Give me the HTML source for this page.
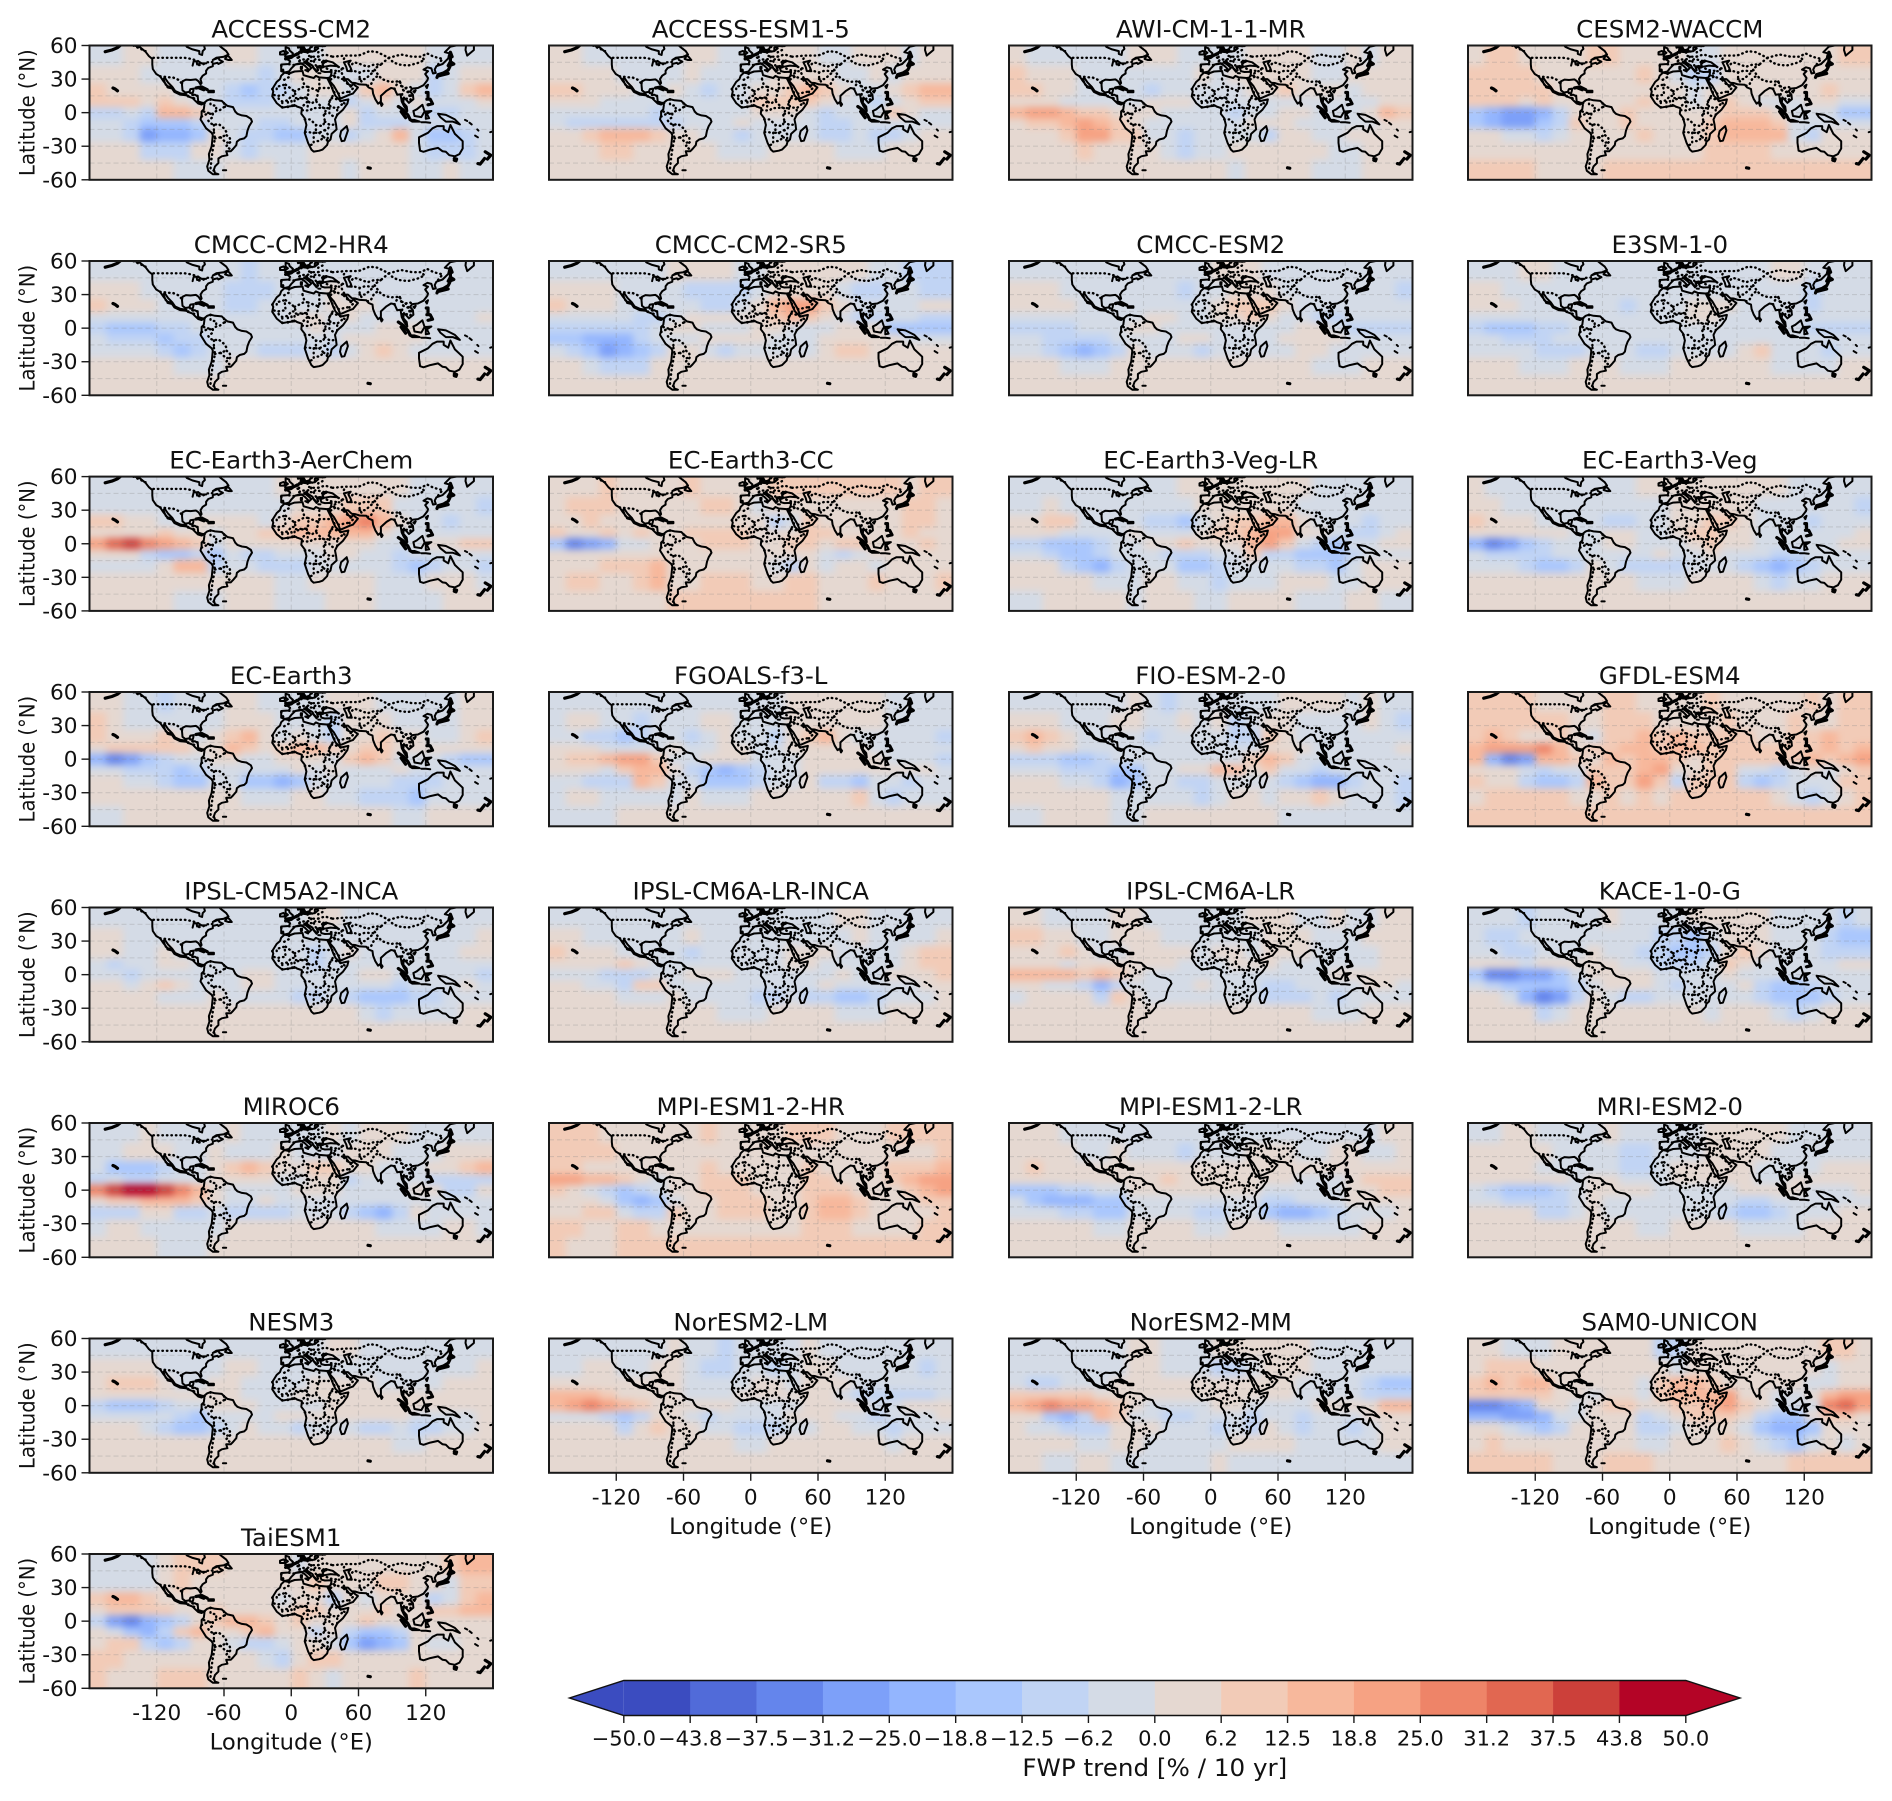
<!DOCTYPE html>
<html lang="en">
<head>
<meta charset="utf-8">
<title>FWP trend by CMIP6 model</title>
<style>
html,body{margin:0;padding:0;background:#fff;}
svg{display:block;}
text{font-family:"DejaVu Sans","Liberation Sans",sans-serif;fill:#111;}
</style>
</head>
<body>
<svg id="figure" xmlns="http://www.w3.org/2000/svg" width="1892" height="1801" viewBox="0 0 1892 1801">
<defs id="defs">
<filter id="soften" filterUnits="userSpaceOnUse" x="-30" y="-30" width="464" height="195" color-interpolation-filters="sRGB"><feGaussianBlur stdDeviation="3.6"/></filter>
</defs>
<rect x="0" y="0" width="1892" height="1801" fill="#fff"/>
</svg>
<script>
/* Chart values: FWP trend, % per decade. Each field has 9 latitude bands (north to south) of 24 longitude cells. */
const latEdges = [60,42,26,14,5,-5,-14,-26,-42,-60];
const lonStart = -180;
const lonStep = 15;
const latTicks = [60,30,0,-30,-60];
const lonTicks = [-120,-60,0,60,120];
const gridLats = [45,30,15,0,-15,-30,-45];
const gridLons = [-120,-60,0,60,120];
const levels = [-50,-43.75,-37.5,-31.25,-25,-18.75,-12.5,-6.25,0,6.25,12.5,18.75,25,31.25,37.5,43.75,50];
const levelLabels = ["\u221250.0","\u221243.8","\u221237.5","\u221231.2","\u221225.0","\u221218.8","\u221212.5","\u22126.2","0.0","6.2","12.5","18.8","25.0","31.2","37.5","43.8","50.0"];
const levelColors = ["#3b4cc0","#516bd9","#6485ec","#7da0f9","#93b5fe","#aac7fd","#c1d4f4","#d4dbe6","#e5d8d1","#f2cbb7","#f7b89c","#f6a283","#ee8468","#e16751","#cc403a","#b40426"];

const fieldAccessCm2 = [
[-3,-3,3,3,-3,-3,-3,-3,3,3,-3,-3,-3,-3,3,3,3,3,3,3,-3,-3,-3,-3],
[3,3,3,-3,-3,-3,-3,-3,-3,-3,-9,-3,3,3,-3,-3,-3,3,3,3,-9,-3,3,3],
[9,3,3,3,3,-3,-3,-3,-9,-15,-9,-9,-3,3,3,-3,9,15,3,-3,-9,-3,9,15],
[9,9,9,3,9,3,-3,-3,-9,-9,-9,-3,-3,-3,-3,-9,-3,3,-3,3,-3,-3,-3,3],
[-9,-9,-3,-9,15,15,9,-3,-3,-3,-3,-3,-3,-3,-3,3,-9,-3,-3,-3,-9,-9,-3,-3],
[-3,-3,-9,-15,-15,-15,-9,-3,-3,-3,-9,-9,-3,-3,-3,3,-9,-9,-9,-3,-3,-3,-3,-3],
[-3,-3,-9,-28,-22,-22,-15,3,-3,-9,-9,-15,-15,-3,-3,-9,-3,3,15,-3,-15,-15,-9,-3],
[3,3,3,-9,-9,-9,3,3,-3,-9,-3,-3,-3,3,3,3,3,3,3,-3,-9,-9,-9,-3],
[3,3,3,3,3,-3,-3,-3,3,3,3,-3,-3,3,3,-3,3,3,3,-3,-3,3,-3,-3]];
const fieldAccessEsm15 = [
[3,3,-3,-3,-3,-3,-3,-3,3,3,-3,-3,-3,3,3,3,-3,-3,3,3,3,-3,3,3],
[3,3,3,3,-3,-3,-3,-3,3,-3,-3,-3,-3,3,3,3,3,-3,-3,3,-3,3,3,3],
[9,9,3,3,3,-3,-3,3,-3,-9,-3,-3,3,3,9,15,9,3,-3,-3,3,9,15,15],
[3,3,3,-3,-3,-3,-3,-3,-3,-3,-3,-3,9,9,9,9,3,-3,-3,-9,-3,3,9,9],
[-3,-3,-3,-3,-3,-3,-9,-3,-3,-3,-3,-3,3,3,3,-3,-9,-3,-3,-3,9,3,-3,-3],
[-3,-9,-9,-9,-9,-9,-9,-9,-3,-3,-3,3,-3,-3,-3,-3,-9,-9,-3,-3,-3,-3,-3,-3],
[3,3,9,15,15,15,9,3,3,-3,-3,-9,-3,-3,-3,-3,-9,-9,-3,-9,-9,-3,3,3],
[3,3,3,9,9,3,3,3,3,3,-3,-3,-3,3,3,3,3,-3,-3,-3,3,3,3,3],
[3,3,3,3,3,3,3,3,3,3,3,3,3,3,3,3,3,3,3,3,3,3,3,3]];
const fieldAwiCm = [
[3,-3,-3,-3,-3,-3,-3,3,3,3,-3,-3,-3,-3,3,3,3,3,-3,-3,3,-3,3,3],
[9,3,3,3,-3,-3,-3,-3,-3,-3,-3,3,-3,3,3,3,3,3,-3,-3,3,3,3,3],
[9,9,3,3,-3,-3,-3,-3,-9,-3,-3,-3,-3,-3,3,3,9,3,3,3,-3,3,3,3],
[3,3,3,-3,-3,-3,-3,-3,3,3,3,-3,-3,-3,-3,-3,-3,-3,-3,-3,-3,-3,3,3],
[15,22,22,15,9,9,3,3,3,-3,-3,-3,-3,-9,-3,-3,3,3,-3,-3,-3,3,15,9],
[3,9,9,15,22,15,9,3,-3,-3,-3,-3,-3,-3,3,3,3,-3,-3,-3,-3,-3,3,3],
[3,3,3,9,22,22,9,9,-3,-3,-9,-3,-3,-3,-3,-9,3,3,-3,-3,3,3,3,3],
[3,3,3,3,9,3,3,3,3,-3,-9,-3,-3,3,3,3,3,3,3,-3,-3,3,3,3],
[3,3,3,3,3,3,3,3,3,3,3,3,3,-3,3,3,3,3,-3,-3,-3,3,3,3]];
const fieldCesm2Waccm = [
[3,9,9,3,3,3,3,9,9,3,3,3,3,-3,-3,3,3,3,3,3,3,3,9,9],
[9,9,9,9,3,3,3,3,3,3,9,3,-3,-9,-9,3,3,3,3,3,3,3,3,3],
[9,9,9,9,9,3,3,3,3,3,3,3,3,-3,3,3,3,3,3,3,3,9,3,3],
[9,9,9,3,9,3,3,3,3,3,9,3,3,-3,3,9,3,-3,-3,-3,3,3,-3,-3],
[-15,-22,-28,-28,-22,-9,3,3,3,9,3,3,3,3,3,9,9,9,3,-3,-3,-3,-15,-15],
[-15,-22,-28,-28,-15,-9,9,3,3,9,3,3,3,3,9,15,15,15,9,-3,-3,-3,-3,-3],
[3,3,-3,-3,-9,-3,3,3,3,3,9,3,3,3,9,15,15,15,15,-3,-9,3,3,3],
[3,3,3,3,3,3,3,3,3,3,3,3,3,3,9,9,9,9,3,3,3,3,3,3],
[9,9,9,9,3,3,3,3,9,9,9,9,9,9,9,9,9,9,9,9,9,9,9,9]];
const fieldCmccHr4 = [
[-3,-3,-3,-3,-3,-3,-3,-3,-3,-9,-3,-3,-3,-3,-3,-3,-3,-3,-3,-3,-3,-3,-3,-3],
[3,3,3,-3,-3,-3,-3,-3,-9,-9,-9,-3,-3,-3,3,-3,-3,-3,-3,-3,-3,-3,-3,-3],
[9,3,3,3,-3,-3,-3,-3,-9,-9,-3,-3,-3,-3,3,3,3,-3,-3,-3,-3,-3,-3,-3],
[-3,-3,-3,-3,-3,-3,-3,-3,-3,-3,-3,-3,3,3,-3,3,-3,-3,-3,-3,-3,-3,-3,3],
[-9,-15,-15,-15,-9,-9,-3,-3,-3,-3,-3,-3,-3,3,-3,-3,-3,3,3,3,-3,-3,-3,-3],
[-3,-9,-9,-9,-15,-9,-9,-3,-3,-3,-3,-3,-3,-3,-3,3,3,3,3,3,-3,-3,-3,-3],
[-3,-3,-3,-3,-9,-15,-9,-3,-3,-3,-9,-9,-9,-3,-9,-3,3,9,3,-3,-3,-3,-3,-3],
[3,3,3,3,3,-3,-3,-3,3,3,3,3,3,3,3,3,3,3,3,3,3,3,3,3],
[3,3,3,3,3,3,3,3,3,3,3,3,3,3,3,3,3,3,3,3,3,3,3,3]];
const fieldCmccSr5 = [
[-3,-3,-3,-3,-3,-3,-3,3,3,3,3,-3,-3,3,3,3,3,3,3,-3,-3,-9,-9,-9],
[3,3,3,3,-3,-3,-3,-3,-9,-9,-9,-9,-3,3,3,3,3,-3,-9,-9,-3,-3,-9,-9],
[9,3,3,3,-3,-3,-3,-3,-3,-9,-9,-3,3,15,22,22,9,3,-3,-3,-3,-3,3,3],
[-3,-3,-3,-3,-3,-9,-9,-3,3,3,3,3,3,9,15,9,3,-3,-9,-9,-3,-3,-9,-9],
[-9,-9,-9,-9,-9,-9,-3,3,3,-3,-3,-3,3,3,-3,-3,-3,3,3,3,-15,-15,-15,-15],
[-15,-15,-22,-22,-22,-9,-3,-3,-3,3,3,3,3,-3,-3,-3,3,3,3,3,3,-3,-3,-3],
[-3,-9,-15,-28,-22,-15,-9,3,3,-3,-9,-3,-3,-3,-3,-3,3,9,9,3,3,3,3,3],
[3,3,-3,-9,-9,-9,3,3,3,3,3,3,3,3,3,3,3,3,3,3,3,3,3,3],
[3,3,3,3,3,3,3,3,3,3,3,3,3,3,3,3,3,3,3,3,3,3,3,3]];
const fieldCmccEsm2 = [
[-3,-3,-3,-3,-3,-3,-3,-3,-3,-3,-3,-3,3,3,3,-3,-3,-3,-3,-3,-3,-3,-3,-3],
[3,3,3,-3,-3,-3,-3,-3,-3,-3,-9,-3,-3,3,3,3,-3,-3,-3,-3,-3,-3,-3,-9],
[3,3,3,3,-3,-3,-3,-3,-3,-3,-3,-3,3,9,9,9,3,-3,-3,-3,-3,-3,-3,-3],
[-3,-3,-3,-3,-3,-3,-3,-3,3,3,-3,-3,3,3,9,3,-3,-3,-9,-9,-3,-3,-3,-3],
[-9,-9,-9,-9,-3,-3,-3,3,3,-3,-3,-3,-3,-3,-3,-3,-3,3,3,-3,-9,-9,-9,-9],
[-3,-3,-9,-9,-9,-9,-3,-3,-3,-3,3,3,-3,-3,-3,-3,3,3,3,3,-3,-3,-3,-3],
[-3,-3,-9,-15,-22,-15,-9,3,-3,-3,-3,-9,-3,-3,-3,-3,-3,3,3,-3,-3,-3,-3,-3],
[3,3,3,-3,-3,-3,3,3,3,3,3,3,3,3,3,3,3,3,-3,-3,-3,3,3,3],
[3,3,3,3,3,3,3,3,3,3,3,3,3,3,3,3,3,3,3,3,3,3,3,3]];
const fieldE3sm = [
[-3,-3,-3,3,3,-3,-3,-3,-3,-3,-3,-3,-3,-3,-3,-3,-3,-3,3,3,-3,-3,-3,-3],
[3,3,-3,-3,-3,-3,-3,-3,-3,-3,-3,-3,-3,-3,-3,-3,-3,-3,-3,-3,-9,-3,-3,-3],
[3,3,3,-3,-3,-3,-3,-3,-3,-9,-3,-3,-3,3,3,3,-3,-3,-3,-3,-9,-3,-3,-3],
[-3,-3,-3,-3,-3,-3,-3,-3,-3,-3,-3,-3,-3,3,3,-3,-3,-3,-3,-3,-3,-3,-3,-3],
[-9,-15,-15,-15,-9,-9,-3,-3,-3,-3,-3,-3,-3,-3,-3,-3,-3,-3,-3,-3,-9,-9,-9,-9],
[-3,-3,-9,-9,-9,-3,-3,-3,-3,-3,-3,-3,-3,-3,-3,-3,-3,-3,-3,-3,-3,-3,-3,-3],
[-3,-3,-3,-3,-9,-9,-9,-3,-3,-3,-9,-9,-3,-3,-3,-3,3,9,-3,-3,-3,-9,-3,-3],
[3,3,3,-3,-3,-3,3,3,3,-3,-3,-3,3,3,3,3,3,3,-3,-3,-3,-3,3,3],
[3,3,3,3,3,3,3,3,3,3,3,3,3,3,3,3,3,3,3,3,3,3,3,3]];
const fieldEcAerChem = [
[-3,-3,-3,-3,-3,-3,-3,-3,-3,-3,-3,3,3,3,3,3,3,3,3,-3,-3,-3,-3,-3],
[-3,-3,-3,-3,-3,-3,-3,-3,-3,-3,-3,-3,3,3,3,9,9,9,-3,-3,-3,-3,-3,-9],
[9,9,3,3,-3,-3,3,3,3,3,-3,3,9,9,15,22,28,15,3,-3,-3,-9,-3,-3],
[3,3,3,3,9,3,3,-3,3,3,9,9,15,15,15,15,15,3,-3,-3,-3,-3,-3,-3],
[22,34,40,28,22,15,9,-3,3,3,3,3,3,3,3,3,3,-3,-3,-3,3,3,9,9],
[3,3,3,-9,-15,-15,-9,-15,-3,-9,-9,-3,-3,-3,3,3,-3,-3,-9,-3,-3,-3,-3,-3],
[-3,-3,-3,-3,3,15,15,-9,-3,-3,-9,-9,-9,-3,-3,-3,-3,-3,-9,-15,-9,-3,-3,-9],
[3,3,3,3,3,3,3,3,3,3,3,-3,-3,3,3,3,3,-3,-3,-3,3,3,3,-3],
[3,3,3,3,3,-3,-3,-3,3,3,3,-3,-3,-3,3,3,3,-3,-3,-3,-3,3,3,3]];
const fieldEcCc = [
[3,3,3,9,3,3,3,3,9,3,3,3,3,9,9,9,9,9,9,9,9,3,9,9],
[3,9,9,9,3,3,3,3,3,9,9,3,-3,3,3,3,3,3,3,3,3,9,9,3],
[3,3,9,3,3,3,3,3,3,3,3,3,3,-9,-3,9,3,3,3,3,3,9,9,3],
[9,3,3,9,3,9,3,3,9,9,9,9,3,3,3,9,9,3,3,3,3,9,3,3],
[-15,-34,-28,-22,-3,-3,3,3,3,9,9,9,3,3,9,9,3,9,9,3,3,3,9,3],
[3,3,3,3,3,3,3,3,3,3,3,3,3,3,3,3,-3,-9,-3,3,3,3,3,3],
[3,3,3,9,9,9,15,3,3,3,3,3,3,-3,-9,3,-3,3,3,-3,3,3,3,3],
[3,9,9,3,3,9,15,3,3,9,9,9,3,3,9,9,3,3,3,9,3,3,3,9],
[3,3,3,3,3,3,3,9,9,9,9,9,9,9,9,9,3,3,3,3,3,3,3,3]];
const fieldEcVegLr = [
[-3,-3,-3,-3,-3,-3,-3,-3,-3,-3,3,3,3,3,3,3,3,3,-3,-3,-3,-3,-3,-3],
[-3,-3,3,-3,-3,-3,-3,-3,-3,-3,-3,3,3,3,3,3,3,-3,-3,-3,-3,-3,-3,-3],
[3,3,9,9,-3,-3,-3,-3,-9,-9,-15,-3,3,9,9,15,15,3,-3,-3,-3,-9,-3,-3],
[3,3,3,-3,-3,-3,-3,3,-3,-3,-3,3,9,9,15,22,22,3,3,-3,-9,-9,-3,3],
[-9,-9,-15,-15,-15,-9,-3,-3,3,3,9,3,3,3,15,22,9,-3,-9,-15,-3,-3,3,3],
[-3,-3,-9,-15,-15,-9,-3,-3,-3,-9,-9,-9,-3,-3,9,-9,-9,-15,-15,-15,-9,-3,-3,-3],
[3,3,3,-9,-15,-22,-9,-3,-3,-3,-15,-15,-9,-3,-3,-3,-3,-9,-9,-15,-3,3,3,3],
[3,3,3,3,3,-3,-3,-3,3,3,-3,-3,-9,-3,-3,-3,3,3,3,-3,-3,3,3,3],
[-3,-3,3,3,3,3,3,-3,3,3,3,-3,-3,3,3,3,3,-3,-3,-3,3,3,-3,-3]];
const fieldEcVeg = [
[3,-3,-3,-3,-3,-3,-3,-3,-3,-3,3,3,3,3,3,3,3,3,3,-3,-3,-3,-3,-3],
[3,3,-3,-3,-3,-3,-3,-3,-3,-3,-3,-3,3,3,3,3,3,-3,-3,-3,-3,-3,-3,-9],
[9,3,3,3,-3,-3,-3,-3,-9,-9,-3,-3,3,3,9,9,3,-3,-3,-3,-9,-3,-3,-3],
[3,3,3,3,3,3,-3,-3,3,3,-3,-3,3,9,9,3,3,-3,-3,-3,-3,-3,-3,3],
[-22,-34,-28,-15,-9,-3,-3,-3,3,3,-3,-3,-3,3,9,3,3,-3,-3,-3,-3,-3,3,3],
[-3,-9,-9,-9,-9,-3,-3,-3,-3,-3,-3,3,-3,-3,3,-3,-3,-3,-9,-9,-3,-3,-3,-3],
[-3,-3,-3,-9,-15,-15,-9,3,-3,-9,-9,-9,-9,-3,-3,-3,-9,-15,-22,-15,-9,-3,-3,-3],
[3,3,3,3,3,3,3,3,3,3,-3,-3,-3,3,3,3,3,-3,-9,-3,-3,3,3,3],
[3,3,3,3,3,3,3,3,3,3,3,3,3,3,3,3,3,3,3,3,3,3,3,3]];
const fieldEcEarth3 = [
[3,3,-3,-3,-9,-3,-3,-3,3,3,-3,-3,-3,-3,3,3,3,-3,-3,-3,-3,-3,3,3],
[9,3,-3,-3,-3,-3,-3,-3,3,3,3,-3,-3,-3,-9,3,3,3,-3,-3,-3,-3,3,3],
[9,3,3,3,9,3,-3,3,9,15,3,-3,3,-3,-9,3,3,9,3,3,-3,-3,3,9],
[3,9,9,9,9,9,3,3,15,9,3,9,15,15,9,3,9,9,3,3,3,3,3,3],
[-22,-34,-28,-15,-9,-3,-3,3,3,-3,-3,3,3,3,-3,9,15,9,-3,-3,-3,-9,-15,-15],
[-3,-3,-9,-9,-9,-15,-9,-3,-3,-3,-3,-3,3,-3,3,-3,-3,-3,3,-3,-3,-3,-3,-3],
[3,3,-3,-3,-9,-15,-15,-3,-3,-15,-15,-22,-15,-3,-3,-3,-3,-3,-9,-9,-9,-3,-3,-3],
[3,3,3,3,3,3,3,3,3,-3,-3,-3,3,3,-3,-3,-9,-9,-9,-15,-3,-3,-3,-3],
[-3,-3,3,3,3,3,3,3,3,3,3,3,3,3,3,3,3,3,-3,-3,3,3,3,3]];
const fieldFgoals = [
[-3,-3,-3,-3,-3,-3,-3,-3,-3,-3,-3,-3,-3,-3,3,3,3,3,3,3,-3,-3,-3,-3],
[-3,3,3,-3,-3,-9,-3,-3,-3,3,3,-3,-3,-3,3,3,3,3,3,3,-3,-3,-3,-3],
[-3,-3,-9,-9,-15,-9,-3,-3,-9,-3,3,-3,-3,-9,3,9,15,3,-3,-3,-3,-3,-3,-9],
[3,3,3,-3,-3,-3,-3,3,-3,-3,3,3,-3,-3,3,3,3,3,3,-3,-3,-3,-3,-3],
[3,9,9,15,22,22,9,-3,-3,3,3,3,-3,-3,-3,3,3,3,3,3,-3,-3,-3,-9],
[3,3,3,-3,9,15,15,3,-9,-15,-22,-15,-9,-3,-3,3,3,3,3,3,3,3,3,-3],
[-3,-3,-9,-9,-9,15,9,-3,-3,-15,-15,-15,-9,-3,-3,3,-9,-9,-15,-3,-3,-9,-3,-3],
[-3,3,3,-3,-3,-3,-3,-3,3,-3,-3,-3,3,3,3,3,3,3,9,-3,-9,-3,-3,-3],
[-3,-3,-3,-3,3,3,3,3,3,3,3,3,3,3,3,3,3,3,3,3,3,3,3,3]];
const fieldFioEsm = [
[-3,-3,-3,-3,-3,-3,-3,3,-3,-9,-3,-3,-3,-3,-3,-3,3,3,3,3,-3,3,-3,-3],
[3,3,3,-3,-3,-3,3,3,-3,-3,3,-3,3,-9,-3,3,3,-3,-3,-3,-3,3,-3,-9],
[9,15,9,3,-3,-3,-3,-3,-9,-3,-3,-3,-3,-9,-9,9,3,-3,-3,-3,-3,-3,-3,-3],
[3,9,3,3,-3,-3,-3,-3,-3,-3,-3,-3,-3,-3,-3,3,3,3,-3,-3,-3,-3,-3,3],
[-9,-9,-9,-15,-15,-9,-3,-3,-3,-3,-3,-3,-3,-3,9,15,9,-3,-3,-3,-3,-3,-3,-3],
[-3,-3,-3,-9,-9,-9,-15,-15,-3,-3,3,3,15,15,3,9,-3,-3,-9,-3,-3,-3,-3,-3],
[3,3,3,-3,-3,-9,-22,-15,-3,-3,-9,-9,-3,-3,-3,-3,-9,-15,-22,-22,-9,-3,-3,-9],
[3,3,3,3,3,3,-3,-3,-3,-3,-3,-9,-3,3,3,-3,3,3,9,3,-3,-3,-3,-9],
[-3,-3,3,3,3,3,-3,-3,3,3,3,3,3,3,3,3,-3,-3,-3,-3,-3,-3,-3,-3]];
const fieldGfdl = [
[9,9,9,9,3,3,3,3,9,9,3,3,3,3,9,3,3,3,3,3,9,3,9,9],
[9,9,9,9,9,9,3,3,9,9,9,3,3,3,3,9,3,3,3,9,3,3,9,9],
[9,15,9,3,3,9,3,-3,9,9,15,9,15,9,9,9,9,3,3,9,9,15,9,9],
[15,22,22,22,28,15,3,9,9,15,15,9,15,15,9,9,9,9,9,9,9,15,9,15],
[15,-22,-34,-28,15,15,9,3,15,9,15,15,9,3,9,9,9,9,9,9,15,9,15,22],
[3,3,3,-3,-9,-3,-3,9,9,9,15,22,3,3,9,9,-3,-3,-9,-3,3,-3,3,9],
[9,3,3,-9,-15,-15,-9,15,9,9,22,9,-9,9,9,9,-9,-15,-9,-3,-3,-3,9,9],
[3,9,9,9,9,9,3,3,9,3,9,3,9,9,9,9,9,9,3,-3,-9,-3,3,9],
[9,9,9,9,9,9,9,9,9,9,9,9,9,9,9,9,9,9,9,9,9,9,9,9]];
const fieldIpslCm5 = [
[-3,-3,-3,-3,-3,-3,-3,-3,-3,-3,-3,-3,-3,3,3,-3,-3,-3,-3,-3,-3,-3,-3,-3],
[3,3,-3,-3,-3,-3,-3,-3,-3,-3,-3,-3,-3,-3,-3,-3,-3,-3,-3,-3,-3,-3,-3,3],
[3,3,-3,-3,3,-3,-3,-3,-3,-3,-3,-3,-3,-9,-3,3,-3,-3,-3,-3,-3,-3,3,3],
[-3,-9,-3,-3,3,3,-3,-3,-3,-3,-3,-3,-3,-9,-3,-3,-3,-3,-3,-3,-3,-3,-3,-3],
[-3,-3,-9,-3,-3,-3,-3,-3,-3,3,3,-3,-3,-3,-3,-3,3,3,-3,-3,-3,-3,-3,-9],
[3,3,-3,3,9,3,-3,-3,-3,3,3,-3,-3,-3,-3,-3,-3,-3,-9,-3,-3,-3,3,-3],
[3,3,3,3,-3,-3,-3,3,-3,-3,-3,-3,-9,-9,-3,-9,-15,-15,-15,-9,-9,-3,-3,-3],
[3,3,3,3,3,3,3,3,3,3,3,3,3,3,3,3,-3,-9,-3,-3,-3,-3,3,3],
[3,3,3,3,3,3,3,3,3,3,3,3,3,3,3,3,3,3,3,3,3,3,3,3]];
const fieldIpslInca = [
[-3,-3,-3,-3,-3,-3,-3,-3,-3,-3,-3,-3,-3,-3,-3,-3,-3,3,3,-3,-3,-3,-3,-3],
[3,3,-3,-3,-3,-3,-3,-3,3,-3,-3,-3,-3,-3,-3,-3,-3,-3,3,-3,-3,-3,-3,3],
[9,3,3,3,-3,-3,-3,-3,-9,-3,-3,-3,-3,-3,3,3,3,-3,-3,-3,-3,3,9,9],
[3,3,3,3,9,3,-3,-3,-3,-3,-3,-3,-3,-3,3,3,-3,-3,-3,-3,-3,3,9,9],
[-3,-3,-3,-9,-9,-9,-3,-3,3,3,3,-3,-3,-3,-3,-3,-3,3,-3,-3,3,3,3,9],
[3,3,-3,-3,-9,9,9,-3,-3,-3,-3,-3,-3,-3,-3,-3,3,-3,-3,-3,-3,-3,3,3],
[3,3,3,3,-3,-3,-3,3,-3,-3,-3,-3,-9,-9,-3,-9,-9,-15,-15,-9,-3,-3,-3,3],
[3,3,3,3,3,3,3,3,3,3,-3,-3,-3,3,3,3,3,-3,-3,-3,3,3,3,3],
[3,3,3,3,3,3,3,3,3,3,3,3,3,3,3,3,3,3,3,3,3,3,3,3]];
const fieldIpslLr = [
[3,3,-3,-3,-3,-3,3,3,-3,-3,-3,-3,-3,-3,3,3,3,-3,-3,3,-3,-3,3,3],
[9,9,3,3,-3,-3,3,3,3,-3,-3,-3,-3,-3,-3,3,3,3,-3,-3,-3,3,3,3],
[3,3,3,9,3,-3,-3,3,3,3,3,-3,3,3,-3,3,3,3,-3,-3,-3,-3,3,3],
[3,3,3,-3,3,3,3,3,3,3,-3,-3,-3,3,3,3,-3,-3,-3,-3,-3,-3,3,3],
[15,15,15,15,9,15,9,3,-3,-3,-3,-3,-3,-3,-3,-3,-3,-3,-3,3,3,3,3,3],
[3,3,-3,-3,-9,-22,-9,-3,-3,-3,-3,3,-3,-3,-3,-9,-9,-3,-3,-3,-3,3,3,-3],
[-3,3,3,3,3,-9,9,3,-3,-3,-3,-3,-3,-3,-3,-9,-9,-9,-3,-9,-3,-3,-3,-3],
[3,3,3,3,3,3,3,3,3,3,3,3,3,3,3,3,3,3,-3,-3,-3,3,3,3],
[3,3,3,3,3,3,3,3,3,3,3,3,3,3,3,3,3,3,3,3,3,3,3,3]];
const fieldKace = [
[-3,-3,-3,-9,-3,-3,-3,-3,3,-3,-3,-3,-3,3,3,3,3,3,-3,-3,-3,-3,-9,-3],
[-3,-9,-9,-3,-3,-3,-3,-3,-3,-3,-3,-9,-9,-15,-3,3,3,3,-3,-3,-3,-9,-15,-15],
[-3,-3,-9,-9,-3,-3,-3,3,-3,-3,-9,-9,-15,-15,-9,3,9,3,-3,-3,-3,-9,-9,-9],
[3,3,3,-3,3,3,3,3,3,-3,-3,-9,-9,-9,-3,9,3,-3,-3,-3,-3,-3,3,3],
[-15,-34,-34,-28,-28,-15,-3,3,3,3,3,-3,-3,-3,-3,3,-3,-3,-3,-3,-3,-3,-3,-3],
[-3,-9,-15,-15,-15,-15,-9,-3,3,3,3,-3,-9,-3,-3,-3,3,-9,-15,-15,-9,-3,-3,-3],
[3,3,-3,-22,-34,-28,-9,3,-3,-9,-9,-3,-3,-3,-3,-3,-3,-9,-15,-15,-15,-9,-3,-3],
[3,3,3,3,-9,-3,3,3,3,3,3,3,3,3,-3,3,3,3,-3,-9,-3,3,3,3],
[3,3,3,3,3,3,3,3,3,3,3,3,3,3,3,3,3,3,3,3,3,3,3,3]];
const fieldMiroc6 = [
[-3,-3,-3,3,-3,-3,-3,-3,3,-3,-3,-3,-3,-3,3,-3,3,3,3,-3,-3,-3,-3,-3],
[-3,-3,3,3,3,-3,-3,3,-3,-3,-3,3,-3,-3,-3,3,3,3,-3,-3,-3,3,3,3],
[-3,-15,-15,-15,-9,-3,-3,3,9,15,9,3,3,9,9,3,3,-3,-3,-3,3,3,9,15],
[-9,-3,-9,-9,-3,-3,-3,3,3,3,3,-3,-3,3,3,-9,-3,-3,-3,-3,-9,-9,-9,-9],
[28,40,47,47,40,28,15,3,-3,-3,-3,-3,3,3,3,-3,-3,-3,-3,3,3,-9,-9,3],
[3,9,9,15,15,15,9,3,-3,-3,3,-3,-3,-3,-3,-3,-3,-3,-3,-3,-3,-3,-3,-3],
[-9,-9,-9,3,3,-9,-9,-3,-9,-9,-9,-9,-3,-3,-3,-9,-15,-22,-9,3,-3,-3,-3,-3],
[-3,3,3,-3,-3,-3,-3,-3,3,3,3,3,3,3,3,3,3,-3,-3,-3,-3,3,3,-3],
[3,3,3,3,-3,-3,-3,3,3,3,3,3,3,3,3,3,3,3,3,3,3,3,3,3]];
const fieldMpiHr = [
[9,9,9,3,3,3,3,3,3,9,3,3,3,3,9,9,9,3,3,3,9,9,9,9],
[9,9,9,9,3,3,3,3,3,3,3,3,3,3,3,3,3,3,3,3,3,3,3,9],
[9,9,3,3,3,3,3,3,3,9,3,3,3,3,3,9,3,3,3,3,9,9,9,15],
[22,22,15,15,9,3,-3,3,3,9,9,9,3,3,3,9,9,3,3,3,9,15,22,22],
[9,3,-3,-9,-15,-9,-3,3,3,9,9,9,3,3,3,9,9,9,3,3,3,9,15,22],
[3,3,3,-3,-15,-22,-15,-3,3,3,9,9,9,3,3,9,15,15,9,3,3,3,9,9],
[3,3,9,9,-3,-9,-9,9,3,3,9,9,9,3,3,9,15,15,9,3,3,3,3,9],
[9,9,3,3,9,9,3,3,3,3,3,3,3,3,3,9,9,9,3,3,3,3,9,9],
[9,3,3,3,9,9,9,9,9,9,9,9,9,9,9,9,9,9,9,9,9,9,9,9]];
const fieldMpiLr = [
[3,3,3,-3,-3,-3,-3,-3,-3,-3,-3,-3,-3,-3,-3,-3,-3,-3,-3,-3,-3,-3,3,3],
[3,3,3,3,-3,-3,3,-3,-3,-3,-9,-3,-3,-3,3,3,3,-3,-3,3,3,-3,-3,3],
[3,9,3,3,3,3,3,3,3,3,3,3,3,3,3,3,3,3,3,3,3,3,3,3],
[3,3,3,3,3,3,3,3,3,9,3,3,3,3,3,3,3,-3,-3,-3,3,9,9,9],
[-15,-15,-15,-9,-9,-3,-3,3,3,3,3,3,3,3,3,-3,-3,-3,-3,-3,3,3,9,9],
[-3,-15,-22,-22,-22,-15,-15,-3,-3,-3,-3,-3,-3,-3,-3,-9,-9,-3,-3,-3,3,3,3,3],
[-3,-3,-3,-9,-9,-15,-15,-3,-3,-3,-3,-9,-9,-3,-3,-15,-22,-22,-15,-9,-3,-3,-3,3],
[3,3,3,3,3,-3,-3,3,3,3,3,-3,-3,3,3,3,-3,-3,-3,-3,-3,3,3,3],
[3,3,3,3,3,3,3,3,3,3,3,3,3,3,3,3,3,3,3,3,3,3,3,3]];
const fieldMri = [
[-3,-3,3,3,-3,-3,-3,-3,3,-3,-3,-3,-3,-3,3,3,3,3,3,-3,-3,-3,-3,-3],
[3,3,3,3,3,-3,-3,-3,-3,-9,-9,-3,-3,-3,3,3,3,3,-3,-3,-3,-3,-3,-3],
[3,3,3,3,-3,-3,-3,-3,-3,-9,-9,-3,3,3,3,3,3,-3,-3,-3,-3,3,3,3],
[3,3,3,3,3,3,-3,3,3,-3,-3,-3,3,3,3,3,3,-3,-3,3,3,3,3,3],
[-3,-9,-15,-15,-15,-9,-3,3,3,3,3,-3,-3,-3,-3,-3,3,3,3,3,-3,-3,-3,3],
[-3,-3,-9,-9,-9,-9,-3,3,-3,-3,-3,-3,-3,-3,-3,-3,-9,-9,-3,-3,-3,-3,-3,-3],
[3,3,3,3,-9,-9,-3,3,-3,-3,-3,-3,-3,-3,-3,-9,-15,-15,-9,-3,-3,-3,3,3],
[3,3,3,3,3,3,3,3,3,3,-3,-3,3,3,3,3,-3,-3,-3,-3,3,3,3,3],
[3,3,3,3,3,3,3,3,3,3,3,3,3,3,3,3,3,3,3,3,3,3,3,3]];
const fieldNesm = [
[-3,-3,-3,-3,-3,-3,-3,-3,-3,-3,-3,-3,-3,-3,3,3,-3,-3,-3,-3,-3,-3,-3,-3],
[3,3,3,3,-3,-3,-3,-3,3,3,-3,-3,-3,-3,-3,-3,-3,-3,-3,-3,-3,-3,-3,3],
[3,9,9,9,3,-3,-3,3,3,-3,-3,-3,-3,3,3,3,3,-3,-3,-3,-3,3,3,3],
[3,3,3,3,3,3,3,3,3,-3,-3,-3,3,3,3,3,3,3,3,3,3,3,3,3],
[-9,-15,-15,-15,-9,-3,-3,3,3,3,-3,-3,-3,-3,3,3,3,3,3,3,3,3,3,3],
[-3,-3,-3,-3,-3,-9,-15,-3,-3,-3,-3,3,3,3,3,3,3,3,3,-3,-3,-3,-3,3],
[3,3,3,-3,-9,-15,-15,-9,-3,3,-3,-3,-9,-3,-3,-3,-9,-9,-3,-9,-9,-3,-3,3],
[3,3,3,3,3,3,3,3,3,3,3,3,3,3,3,3,3,3,-3,-3,3,3,3,3],
[3,3,3,3,3,3,3,3,3,3,3,3,3,3,3,3,3,3,3,3,3,3,3,3]];
const fieldNorLm = [
[-3,-3,-3,-3,-3,-3,-3,3,-3,-3,-9,-3,-3,-3,-3,3,-3,-3,-3,-3,-3,-3,-3,-3],
[-3,-3,3,3,-3,-3,3,3,-3,-9,-9,-3,-3,-9,-3,3,3,-3,-3,-3,-3,-3,-9,-3],
[3,3,3,3,3,3,3,3,-3,-3,-3,-3,3,3,-3,3,3,3,-3,-3,-3,-3,-3,-3],
[15,15,15,9,3,3,3,3,-3,-3,-3,3,3,3,3,3,3,-3,-9,-9,-9,-9,-9,-3],
[15,22,28,22,15,9,3,3,3,3,3,-3,-3,-3,-3,3,3,3,3,-3,-3,3,3,3],
[-3,-3,-3,-9,-15,-9,3,3,-3,-9,-3,-3,-3,-3,3,3,3,-3,-3,-9,-3,-3,-3,3],
[3,3,3,3,-9,3,9,3,3,-3,-3,-9,-9,-9,-3,-3,3,3,-3,-3,-9,-3,-3,-3],
[3,3,3,3,3,3,3,3,3,3,3,-3,-3,3,3,3,3,3,3,3,-3,3,3,3],
[3,3,3,3,3,3,3,3,3,3,3,3,3,3,3,3,3,3,3,3,3,3,3,3]];
const fieldNorMm = [
[-3,-3,-3,-3,-3,-3,-3,3,3,-3,-3,-3,3,3,3,3,3,3,-3,-3,-3,-3,-3,-3],
[-3,-3,-3,-3,-3,-3,-3,3,3,-3,-3,-3,-9,-9,-3,3,3,3,-3,-3,-3,-3,-3,-3],
[-3,-9,-9,-3,-3,-3,3,3,3,3,3,3,3,3,3,3,3,-3,-3,-3,-3,-9,-15,-15],
[9,9,9,9,9,3,3,3,3,3,3,3,3,3,3,3,3,-3,-3,-3,-3,-9,-9,-9],
[15,22,28,22,22,15,9,3,-3,-3,-3,-3,3,3,-3,-3,-3,-3,3,3,3,3,15,15],
[3,3,-15,-22,-9,15,9,-3,-3,-9,-9,-3,-3,-3,-9,-3,-3,-9,-3,-3,-3,3,3,3],
[3,-3,-3,-9,-9,-9,3,3,3,-3,-3,-3,-9,-3,-9,3,-3,-9,-3,-3,-9,-3,3,3],
[3,3,3,3,-3,-3,3,3,-3,-3,-3,-3,-3,3,3,3,3,-3,-3,-3,-3,-3,3,3],
[3,3,-3,-3,3,3,-3,-3,-3,-3,-3,-3,3,-3,-3,-3,-3,-3,-3,-3,-3,-3,-3,-3]];
const fieldSam0 = [
[3,3,-3,-3,-3,3,3,3,3,3,3,-9,-9,3,3,3,3,3,3,3,3,9,9,3],
[3,9,9,9,3,3,3,3,3,3,3,3,-3,3,3,3,3,3,3,3,3,-3,3,3],
[9,15,9,15,15,3,3,3,3,3,-3,9,15,15,9,3,3,3,3,3,-3,-3,3,3],
[9,9,9,9,9,3,3,-3,3,3,-3,9,15,15,15,22,3,3,-3,-3,3,15,22,22],
[-34,-34,-28,-22,3,3,-3,3,9,9,3,3,9,9,15,22,9,3,-3,-3,-3,28,34,22],
[-22,-22,-28,-28,-22,-3,-3,3,3,3,-9,-3,3,9,9,9,3,-9,-15,-15,3,9,9,3],
[3,3,-3,-9,-15,-9,3,3,3,3,-9,-9,-3,3,3,3,-3,-15,-22,-22,-15,3,3,3],
[3,9,3,3,3,3,3,3,3,3,-3,-3,3,3,3,9,3,-3,-9,-15,-3,3,-3,3],
[9,9,9,9,9,3,3,3,9,9,9,3,3,3,3,3,3,3,3,9,9,9,9,9]];
const fieldTaiEsm = [
[-3,-3,-3,-3,3,9,9,9,3,3,3,3,-3,3,3,3,3,3,3,3,3,9,15,15],
[-3,-3,-3,-3,3,9,3,3,3,3,3,3,3,9,3,3,3,9,9,3,3,-3,9,9],
[9,15,15,9,3,3,3,3,3,3,3,-3,3,3,-9,3,-3,3,3,3,-9,-3,9,15],
[3,9,9,9,9,3,3,9,3,3,3,3,9,9,3,3,3,9,3,3,9,9,15,15],
[-9,-28,-34,-22,-15,-9,3,9,15,15,9,3,9,3,3,3,9,3,3,3,3,3,3,3],
[3,-3,-15,-22,-9,9,15,3,3,9,15,3,3,-9,3,-9,-15,-15,-9,3,3,3,3,3],
[3,9,9,-9,-15,-9,3,3,-3,-9,-9,-3,3,3,-3,-15,-28,-22,-15,3,-3,-3,3,3],
[9,9,3,3,3,3,3,3,3,3,-3,-9,3,9,9,3,3,3,3,3,3,3,3,3],
[9,3,3,3,9,9,9,3,3,3,3,3,9,3,-3,3,3,3,3,9,3,3,3,3]];

const modelNames = ["ACCESS-CM2","ACCESS-ESM1-5","AWI-CM-1-1-MR","CESM2-WACCM","CMCC-CM2-HR4","CMCC-CM2-SR5","CMCC-ESM2","E3SM-1-0","EC-Earth3-AerChem","EC-Earth3-CC","EC-Earth3-Veg-LR","EC-Earth3-Veg","EC-Earth3","FGOALS-f3-L","FIO-ESM-2-0","GFDL-ESM4","IPSL-CM5A2-INCA","IPSL-CM6A-LR-INCA","IPSL-CM6A-LR","KACE-1-0-G","MIROC6","MPI-ESM1-2-HR","MPI-ESM1-2-LR","MRI-ESM2-0","NESM3","NorESM2-LM","NorESM2-MM","SAM0-UNICON","TaiESM1"];
const modelFields = [fieldAccessCm2,fieldAccessEsm15,fieldAwiCm,fieldCesm2Waccm,fieldCmccHr4,fieldCmccSr5,fieldCmccEsm2,fieldE3sm,fieldEcAerChem,fieldEcCc,fieldEcVegLr,fieldEcVeg,fieldEcEarth3,fieldFgoals,fieldFioEsm,fieldGfdl,fieldIpslCm5,fieldIpslInca,fieldIpslLr,fieldKace,fieldMiroc6,fieldMpiHr,fieldMpiLr,fieldMri,fieldNesm,fieldNorLm,fieldNorMm,fieldSam0,fieldTaiEsm];

/* Coastlines: flat lon,lat lists */
const coastLines = [
[-146,60.5,-140,60,-135,58.5,-130,54.5,-127,50.5,-124,48,-124,43,-123.5,39,-120.5,34.5,-117,32.5,-114,28,-110,23,-112,25,-114,30,-113,31.5,-110,27,-106,23,-105,20,-101,17.5,-96,16,-94,16,-92,14.5,-88,13,-85.5,10.5,-83,8.2,-80,7.3,-78,8.5,-77,8.5,-80,9,-83,10,-83.5,14.5,-86,16,-88.5,16,-87.5,19,-87,21.5,-90,21,-91,18.5,-94.5,18,-97,20,-97.5,25,-97,28,-94,29.5,-90,29.2,-85,29.7,-82.7,28,-81,25.2,-80,26.5,-81,30,-79,33,-76,35,-76,37.5,-74,40,-70,41.5,-70,43.5,-66,44.5,-65,43.5,-61,45.5,-64,47,-65,49,-70,47,-67,49,-60,50,-56,52,-58,55,-62,58,-65,60.5],
[-94.5,60.5,-93,58.7,-88,56.5,-82,55,-82,52.5,-79.5,51.5,-79,55,-77,57,-78,60.5],
[-59,48,-57,51,-55.5,50,-53,47,-56,47,-59,48],
[-74,19.5,-69,19.5,-69,18.3,-74,18.2,-74,19.5],
[-88,42,-87,46,-84.5,46,-84,43,-82,43.5],[-83,46,-80,44,-76,44],
[-78,8.5,-75,11,-72,12,-68,11,-62,10.5,-60,8.5,-57,6,-52,5,-50,1,-48,-1,-44,-2.5,-40,-3,-36,-5.5,-35,-8,-37.5,-12,-39,-16,-40,-21,-42,-23,-46,-24,-48.5,-26,-49,-29,-52,-32.5,-54,-34.5,-58,-34.5,-57,-38,-62,-39,-65,-41,-65,-45,-68,-48,-69,-51,-68,-54,-65,-55,-70,-55,-74,-52,-75,-48,-73,-42,-73.5,-37,-71,-30,-70,-20,-71,-18,-76,-14,-81,-6,-80,-2.5,-80,1,-78,3,-77.5,7,-78,8.5],
[-61,-51.5,-58,-51.5],
[32.5,30,34,27,36,23,37.5,19,39.5,15,43,11.5,45,10.5,51,11.8,50,8,46,2.5,41,-2,39,-6,40,-11,40.5,-15,36,-19,35,-24,32.8,-26,32,-29,28,-33,25,-34,20,-34.8,18,-33,15,-27,12,-18,13.5,-11,12,-5,9,-1,9.5,4,5,5.5,4,6.3,-4,5.2,-8,4.5,-13,8.5,-17,14.7,-16,19,-17,21,-13,27.5,-10,30,-9,33,-6,35.8,-2,35,3,36.8,10,37.2,11,33.5,15,32.3,20,31,22,32.8,25,31.5,32,31,34.3,31.3,35.5,33,36,36.5,30,36.3,27,37,26,39.5,29,41,35,42,41.5,41.5,37,45,33,46,31,46.5,28,43,29,41],
[49.5,-12,50.5,-16,47.5,-25,45,-25.5,43.5,-21,44.5,-16.5,49.5,-12],
[26,40.5,23,40.5,24,38,22.5,36.5,20,39.5,19,42,14,45.2,12.5,44.5,16,41.8,18,40,16,38,12,42,8.5,44.3,3.5,43,0,39.5,-2,36.8,-5.5,36,-9,37,-9,43,-2,43.5,-1,46,-4.5,48.3,2,51,8,54,8.5,57,10.5,57.5,10,54.5,14,54,21,55,21,58,24,59.3,30,60.5],
[5.5,60.5,6,58,11,59,13,55.5,16,56.5,18.5,60.5],
[-5.5,50,1,51,1.5,53,-1.5,55.5,-2,57.5,-5,58.5,-5,55,-3,53.5,-5,52,-5.5,50],
[-6,52,-10,52,-10,54,-7,55.2,-5.7,54,-6,52],
[12.5,38,15.5,38,15,36.8,12.5,38],[8.5,41,9.7,41,9.5,39,8.5,39,8.5,41],[24,35.3,26,35.2],
[47,45,53,46.5,51,44,53,40,54,37,50,37.2,49,41,47,45],
[34.5,28,38,24,42,17,43.5,13,45,13,52,16,55,17,59.5,22.5,56.5,24.5,56,26.5,54,24.2,51.5,25,50,27,48,30,50.5,30,54,26.8,57,26.5,61,25.2,67,25,69,22.5,72.5,21,73,17,75,12,77.5,8,80,10,80,15,85,19.5,89,22,92,21.5,94.5,16,97.5,16.5,98.5,10,100.5,6,103.5,1.5,103,5.5,100,9,100.5,13.5,103,11,105,8.7,109,12,108.5,16,106,19,108,21.5,113,22,118,24.5,121.5,29,122,31,119.5,34.5,122,37,118,38.5,121.5,40.5,125,39.5,126.5,35,129,35.5,128,38.5,129.5,41.5,135,43.5,140,48.5,141,53,137,54,142,59,150,60.5],
[34.5,28,35,29.5,32.5,30],
[163,60.5,163,56,157,51,155.5,56,156,60.5],
[121,22,122,25,120,23.5,121,22],[109,19,111,20,110,18,109,19],
[80,9.5,81.5,7.5,80.5,6,79.8,8,80,9.5],
[105.5,-6.5,110,-6.5,114.5,-8,108,-8,105.5,-6.5],[116,-8.5,120,-8.5,124,-9],
[109,1.5,112,3,117,7,119,1,116,-4,110,-3,109,1.5],
[120,1,125,1.5,121,-1,123,-5,120,-5.5,120,1],
[131,-1,138,-2,146,-6,150.5,-10.5,144,-8,138,-8,133,-4,131,-1],
[114,-22,122,-18,126,-14,130,-12,136,-12,136,-15,140,-17.5,142,-11,146,-19,153,-25.5,153,-32,150,-37,146,-39,141,-38,138,-35,135,-34.5,131,-31.5,124,-33,118,-35,115,-34,114,-27,114,-22],
[155,-6.5,157,-7.5],[159,-9,161,-10.5],[166,-15,167,-16],[164,-20.5,166.5,-22],[177.5,-17.5,179,-17],
[21,55,24,57.5,22,59,28,60],[10,55.5,12.5,56],[14,54,18,55,19,54.5],[2,51,5,53,8,53.5],[3.5,43,7,43.5,10,44],[12.5,44.5,13.5,45.5],[19,42,20,40,22,38]
];
/* Dense or small coast pieces that print nearly solid */
const heavyLines = [
[-166,54.5,-160,56,-155,58,-152,60.5],
[-159,22,-157,21,-155,19.5],
[-110,23,-106,22,-104,19,-99,16.7,-94,16],
[-85,22,-80,23,-75,20.5],[-82,22,-78,20.5],
[120.5,18,122,18,122,14],[121,12,124,12,126,8,122,7],
[130,31.5,131,34,136,35.5,140,38,141.5,41],[132,33,136,34,140,35],
[140,42,142,45.5,145,43.5,141,42],[142,46,142,54,143.5,50],
[95.5,5.5,100,2.5,104,-2,106,-6],[98,1,102,-4.5],
[145.5,-41,147.5,-41.5,147,-43,145.5,-42.5],
[173,-35,178,-38,175,-41.5],[172.5,-41,168.5,-46,166.5,-45.5],
[68.5,-49.3,70.5,-49.6],
[-5,48,0,49.5,2,51,6,52.5],[9,54,10,57],[12,55,16,56],[18,59,18.5,60.5],[23,60,30,60],[24,41,27,41],[12,45,14,45],[28,45,31,46]
];
/* Country borders: flat lon,lat lists, drawn dotted */
const borderLines = [
[-123,49,-95,49,-89,48,-83,46,-82.5,42.5,-79,43,-75,45,-71,45,-67.5,47.5],[-141,60,-130,55],
[-117,32.5,-108,31.5,-106,31.7,-101,29.5,-97.5,26],[-92,14.5,-91,17.5,-89,17.8],[-88,15.8,-83.5,15],[-87,13,-84,11],
[-72,12,-72,7,-67,6,-67,1.5],[-60,8.5,-60,5,-57,6],[-60,5,-64,2,-67,1.5,-70,-1,-70,-4,-74,-7,-73,-9,-69,-11,-65,-10,-60,-14,-58,-17,-58,-20,-55,-22,-54,-26,-58,-30,-53.5,-33.5],
[-80,-3.5,-75,-1,-70,-1],[-78,1,-75,0,-70,-1],[-69,-17.5,-68,-23,-70,-33,-71,-40,-72,-50,-69,-52],[-69,-11,-69,-17.5],[-68,-23,-63,-22,-58,-20],[-63,-22,-58,-27,-54,-26],
[-2,35,-1.5,32,-8.7,28],[-17,21,-13,21,-13,23,-6,25,-5,16,-12,15,-16.5,16],[-5,25,3,19,4,15,0,15,-3,11,-8,10,-11,12,-12,15],[3,19,12,23.5,15,23,15.5,17,13.5,13.5,4,13,3,11.5],
[10,30,10,33],[10,30,12,23.5],[15,23,24,19.5,25,20,25,31.5],[25,22,36.5,22],[24,19.5,23,13,22,11,18,8,15,10,13.5,13.5],[36.5,22,38.5,18,36,13,34,10,33,4,28,4.5,23,9,22,11],
[12,-6,17,-6,22,-11,28,-12,30,-8,29,-2,30.5,1,31,3.5,28,4.5,19,4,17,2,14,2,9.5,2.3],[2.7,6.3,3,11.5,13.5,13.5,14.5,10,9,4.5],[-3,5,-3,11],[1,6,0,11],[-8,4.5,-8,10],[15,10,14.5,4],
[36,13,43,11.5],[34,10,35,5,41,4,46,8,48,8,43,11],[41,-2,41,4],[34,4,34,-1,39.5,-4.5],[30,-1,34,-1],[30,-8,34.5,-11,40,-10.5],[22,-11,22,-18,12,-17.3],[22,-18,25,-18,30,-15.5,33,-14,34.5,-11],
[20,-18,20,-28,17,-29],[25,-18,29,-22,25,-25.5,20,-25],[30,-15.5,33,-20,32,-26],[29,-22,31.5,-23,32,-26],
[37,50,48,51,60,51,70,55,77,54,83,51,87,49,98,52,108,50,116,50,121,53,127,50,135,48,131,43,130,42.5],[87,49,91,45,96,43,104,42,112,44,119,47,116,50],[87,49,80,43,74,43,68,41,60,44,56,45,53,42],[47,48,48,51],
[80,43,74,39,78,33,81,30,88,27.5,97,28,98,24,102,22,106,23,108,21.5],[53,38,61,36,66,37.5,74,37,74,39],[45,39,44.5,37,46,33,48,30],[61,36,61,31,63,27,61.5,25.2],[61,30,66,30,70,33.5,74,37],[68,24,71,25,74,31,78,33],
[92,21,94,25,97,28],[98,24,100,20,98.5,15,99,11],[100,20,105,18,105.5,14.5,102.5,12],[102,22,105,18,107.5,14,106,11],
[35.5,33,42,37,44.5,37],[38,33,47,29.5,48,30],[39,32,35,29.5],[47,29,52,24,55.5,22,52,19,52,16],[42,17,45,17.5,52,19],[28,41,35,38,42,37],[42,41,48,39],
[2,51,8,48,7,44],[-2,43.3,3,42.5],[-9,42,-7,37.5],[7,54,7,48],[14.5,54,15,51,18,50,24,50,24,54,28,56,28,60],[18,50,17,48,13,47.5,9.5,47.5,7,46],[13.5,46.5,19,46,22,48,30,46],[20,46,22,42,26,41.5],[24,50,30,52,37,50]
];

/* Layout */
const NS = "http://www.w3.org/2000/svg";
const figure = document.getElementById("figure");
const defsEl = document.getElementById("defs");
const panelW = 403.5, panelH = 134.3;
const colX = [89.5,549,1009,1468];
const rowY = [45.5,261,476.6,692,907.5,1123,1338.5,1554];
const TXT_STRETCH = 1.03;

function xScale(lon){ return (lon + 180) / 360 * panelW; }
function yScale(lat){ return (60 - lat) / 120 * panelH; }
function levelColor(v){
  let i = levelColors.length - 1;
  for (let k = 0; k < levelColors.length; k++) { if (v < levels[k + 1]) { i = k; break; } }
  return levelColors[i];
}
function svgEl(tag, attrs, parent){
  const el = document.createElementNS(NS, tag);
  for (const k in attrs) el.setAttribute(k, attrs[k]);
  if (parent) parent.appendChild(el);
  return el;
}
function addText(parent, str, x, y, size, anchor, name){
  const el = svgEl("text", {transform:"translate("+x+" "+y+") scale("+TXT_STRETCH+" 1)", "font-size":size, "text-anchor":anchor}, parent);
  
  
  el.textContent = str;
  return el;
}
function linePath(arr){
  let d = "";
  for (let i = 0; i < arr.length; i += 2) d += (i ? "L" : "M") + xScale(arr[i]).toFixed(1) + " " + yScale(arr[i + 1]).toFixed(1);
  return d;
}

/* Shared map outlines */
const mapOutline = svgEl("g", {id:"map-outline", fill:"none", stroke:"#000", "stroke-linejoin":"round", "stroke-linecap":"round"}, defsEl);
svgEl("path", {d:coastLines.map(linePath).join(""), "stroke-width":"2"}, mapOutline);
svgEl("path", {d:heavyLines.map(linePath).join(""), "stroke-width":"3.2"}, mapOutline);
svgEl("path", {d:borderLines.map(linePath).join(""), "stroke-width":"2.4", "stroke-dasharray":"0.5 4"}, mapOutline);

function drawPanel(idx){
  const col = idx % 4, row = Math.floor(idx / 4);
  const px = colX[col], py = rowY[row];
  const hasXAxis = idx >= 25;
  const hasYAxis = col === 0;
  const field = modelFields[idx];
  const panel = svgEl("g", {transform:"translate("+px+" "+py+")"}, figure);
  
  
  addText(panel, modelNames[idx], panelW / 2, -8, 23.8, "middle", "panel-title");

  const map = svgEl("svg", {x:0, y:0, width:panelW, height:panelH, viewBox:"0 0 "+panelW+" "+panelH}, panel);
  const cells = svgEl("g", {filter:"url(#soften)"}, map);
  
  
  field.forEach(function(rowVals, r){
    rowVals.forEach(function(v, c){
      let x0 = xScale(lonStart + c * lonStep), x1 = xScale(lonStart + (c + 1) * lonStep);
      let y0 = yScale(latEdges[r]), y1 = yScale(latEdges[r + 1]);
      if (c === 0) x0 -= 25;
      if (c === rowVals.length - 1) x1 += 25;
      if (r === 0) y0 -= 25;
      if (r === field.length - 1) y1 += 25;
      const cell = svgEl("rect", {x:x0, y:y0, width:x1 - x0 + 0.5, height:y1 - y0 + 0.5, fill:levelColor(v)}, cells);
      
      
    });
  });
  const grid = svgEl("g", {stroke:"#8a8a8a", "stroke-opacity":"0.28", "stroke-width":"1.1", "stroke-dasharray":"5 3", fill:"none"}, map);
  
  
  gridLats.forEach(function(lat){ svgEl("line", {x1:0, x2:panelW, y1:yScale(lat), y2:yScale(lat)}, grid); });
  gridLons.forEach(function(lon){ svgEl("line", {y1:0, y2:panelH, x1:xScale(lon), x2:xScale(lon)}, grid); });
  const outline = svgEl("use", {href:"#map-outline"}, map);
  
  

  const frame = svgEl("rect", {x:0, y:0, width:panelW, height:panelH, fill:"none", stroke:"#1a1a1a", "stroke-width":"2"}, panel);
  
  

  if (hasYAxis) {
    latTicks.forEach(function(lat){
      const y = yScale(lat);
      const tick = svgEl("line", {x1:-8, x2:0, y1:y, y2:y, stroke:"#1a1a1a", "stroke-width":"1.4"}, panel);
      
      
      addText(panel, String(lat), -12, y + 7.5, 21, "end", "y-tick-label");
    });
    const yl = svgEl("text", {transform:"translate(-55 "+(panelH / 2)+") rotate(-90) scale(1 1.1)", "font-size":19.6, "text-anchor":"middle"}, panel);
    
    
    yl.textContent = "Latitude (\u00b0N)";
  }
  if (hasXAxis) {
    lonTicks.forEach(function(lon){
      const x = xScale(lon);
      const tick = svgEl("line", {x1:x, x2:x, y1:panelH, y2:panelH + 8, stroke:"#1a1a1a", "stroke-width":"1.4"}, panel);
      
      
      addText(panel, String(lon), x, panelH + 31.5, 21, "middle", "x-tick-label");
    });
    addText(panel, "Longitude (\u00b0E)", panelW / 2, panelH + 61, 22, "middle", "x-axis-title");
  }
}
modelNames.forEach(function(_, i){ drawPanel(i); });

/* Colorbar */
const barLeft = 623.8, barRight = 1685.8, barTop = 1680.5, barBottom = 1715.5, tipL = 569.5, tipR = 1740;
function barX(v){ return barLeft + (v - levels[0]) / (levels[levels.length - 1] - levels[0]) * (barRight - barLeft); }
const cbar = svgEl("g", {}, figure);


const triL = svgEl("polygon", {points:barLeft+","+barTop+" "+tipL+","+((barTop+barBottom)/2)+" "+barLeft+","+barBottom, fill:levelColors[0]}, cbar);


const triR = svgEl("polygon", {points:barRight+","+barTop+" "+tipR+","+((barTop+barBottom)/2)+" "+barRight+","+barBottom, fill:levelColors[levelColors.length - 1]}, cbar);


levelColors.forEach(function(c, i){
  const seg = svgEl("rect", {x:barX(levels[i]), y:barTop, width:barX(levels[i + 1]) - barX(levels[i]) + 0.3, height:barBottom - barTop, fill:c}, cbar);
  
  
});
const cbarFrame = svgEl("polygon", {points:barLeft+","+barTop+" "+barRight+","+barTop+" "+tipR+","+((barTop+barBottom)/2)+" "+barRight+","+barBottom+" "+barLeft+","+barBottom+" "+tipL+","+((barTop+barBottom)/2), fill:"none", stroke:"#111", "stroke-width":"1.4"}, cbar);


levels.forEach(function(v, i){
  const x = barX(v);
  const tick = svgEl("line", {x1:x, x2:x, y1:barBottom, y2:barBottom + 7.5, stroke:"#1a1a1a", "stroke-width":"1.4"}, cbar);
  
  
  addText(cbar, levelLabels[i], x, 1745.5, 20.4, "middle", "colorbar-tick-label");
});
addText(cbar, "FWP trend [% / 10 yr]", (barLeft + barRight) / 2, 1776, 23.9, "middle", "colorbar-title");
</script>
</body>
</html>
